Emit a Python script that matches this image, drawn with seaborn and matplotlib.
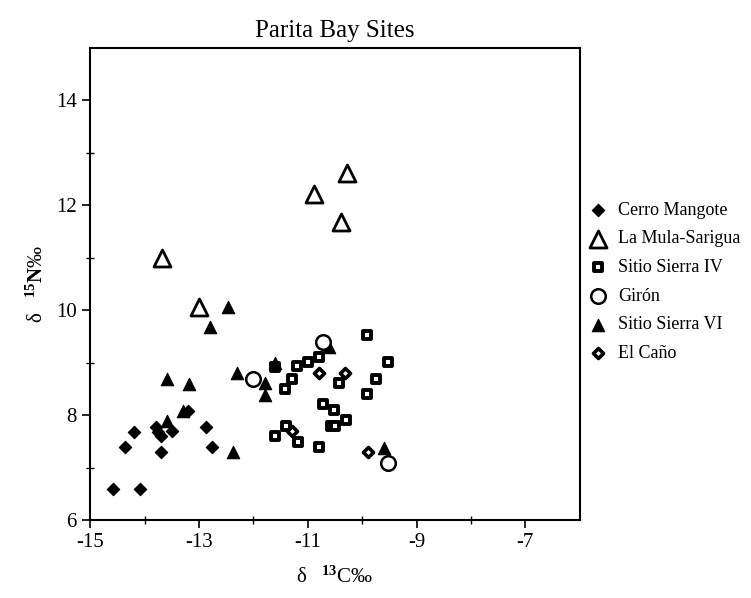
import matplotlib
matplotlib.use("Agg")
import matplotlib.pyplot as plt
import seaborn as sns
import pandas as pd

# ---- data ----
cerro_x = [-14.58, -14.08, -14.36, -14.19, -13.79, -13.75, -13.70, -13.70, -13.50, -12.87, -12.76, -13.20]
cerro_y = [6.59, 6.59, 7.39, 7.68, 7.78, 7.68, 7.60, 7.30, 7.70, 7.78, 7.39, 8.08]

mula_x = [-13.68, -13.00, -10.28, -10.89, -10.39]
mula_y = [11.00, 10.07, 12.62, 12.22, 11.69]

ss4_x = [-9.92, -10.80, -11.00, -11.20, -11.29, -11.42, -9.53, -9.75, -10.43, -9.92,
         -10.72, -10.52, -10.30, -10.58, -10.49, -11.40, -11.60, -11.18, -10.80, -11.60]
ss4_y = [9.53, 9.11, 9.02, 8.93, 8.70, 8.50, 9.02, 8.69, 8.61, 8.40,
         8.21, 8.10, 7.91, 7.80, 7.80, 7.79, 7.60, 7.50, 7.39, 8.92]

giron_x = [-10.72, -9.53, -12.00]
giron_y = [9.40, 7.09, 8.69]

ss6_x = [-12.47, -12.80, -10.61, -11.60, -13.59, -13.18, -12.30, -11.79, -11.79, -13.30, -13.59, -12.37, -9.60]
ss6_y = [10.07, 9.68, 9.30, 9.00, 8.69, 8.60, 8.80, 8.61, 8.39, 8.08, 7.89, 7.30, 7.37]

cano_x = [-10.80, -10.32, -11.29, -9.90]
cano_y = [8.80, 8.80, 7.70, 7.30]

x_ticks = [-15, -13, -11, -9, -7]
y_ticks = [6, 8, 10, 12, 14]

# ---- style ----
sns.set_theme(style="white")
plt.rcParams['font.family'] = ['Liberation Serif', 'DejaVu Serif']
plt.rcParams['mathtext.fontset'] = 'custom'
plt.rcParams['mathtext.rm'] = 'Liberation Serif'
plt.rcParams['mathtext.it'] = 'Liberation Serif:italic'
plt.rcParams['mathtext.bf'] = 'Liberation Serif:bold'

fig = plt.figure(figsize=(7.51, 5.98), dpi=100)
ax = fig.add_axes([0.120, 0.130, 0.652, 0.790])

def plot_group(xs, ys, label, **kw):
    df = pd.DataFrame({"x": xs, "y": ys})
    sns.scatterplot(data=df, x="x", y="y", ax=ax, label=label, **kw)

plot_group(cerro_x, cerro_y, "Cerro Mangote", marker="D", s=40, color="black",
           edgecolor="black", linewidth=0.8, zorder=3)
plot_group(mula_x, mula_y, "La Mula-Sarigua", marker="^", s=150, facecolor="white",
           edgecolor="black", linewidth=2.0, zorder=3)
plot_group(ss4_x, ss4_y, "Sitio Sierra IV", marker="s", s=38, facecolor="white",
           edgecolor="black", linewidth=2.8, zorder=3)
plot_group(giron_x, giron_y, "Girón", marker="o", s=110, facecolor="white",
           edgecolor="black", linewidth=1.8, zorder=4)
plot_group(ss6_x, ss6_y, "Sitio Sierra VI", marker="^", s=80, color="black",
           edgecolor="black", linewidth=0.8, zorder=3)
plot_group(cano_x, cano_y, "El Caño", marker="D", s=26, facecolor="white",
           edgecolor="black", linewidth=2.6, zorder=3)

ax.set_xlim(-15, -6)
ax.set_ylim(6, 15)
ax.set_xticks(x_ticks)
ax.set_xticklabels([str(t) for t in x_ticks])
ax.set_yticks(y_ticks)
ax.set_yticklabels([str(t) for t in y_ticks])
ax.set_xticks([-14, -12, -10, -8], minor=True)
ax.set_yticks([7, 9, 11, 13], minor=True)
ax.tick_params(axis="both", which="major", direction="out", length=6, width=1.2,
               labelsize=15, color="black", labelcolor="black", bottom=True, left=True)
ax.tick_params(axis="both", which="minor", direction="inout", length=6, width=1.0,
               color="black", bottom=True, left=True)
for sp in ax.spines.values():
    sp.set_color("black")
    sp.set_linewidth(1.5)

ax.set_title("Parita Bay Sites", fontsize=18, color="black", pad=8)
ax.set_xlabel(r"δ   $^{\mathbf{13}}$C‰", fontsize=15, color="black", labelpad=10)
ax.set_ylabel(r"δ   $^{\mathbf{15}}$$\mathbf{N}$‰", fontsize=15, color="black", labelpad=6)

leg = ax.legend(loc="upper left", bbox_to_anchor=(1.005, 0.69), frameon=False,
                fontsize=13, labelspacing=0.65, handletextpad=0.6,
                borderaxespad=0.0, handlelength=1.0)
for t in leg.get_texts():
    t.set_color("black")

fig.savefig("out.png", dpi=100)
